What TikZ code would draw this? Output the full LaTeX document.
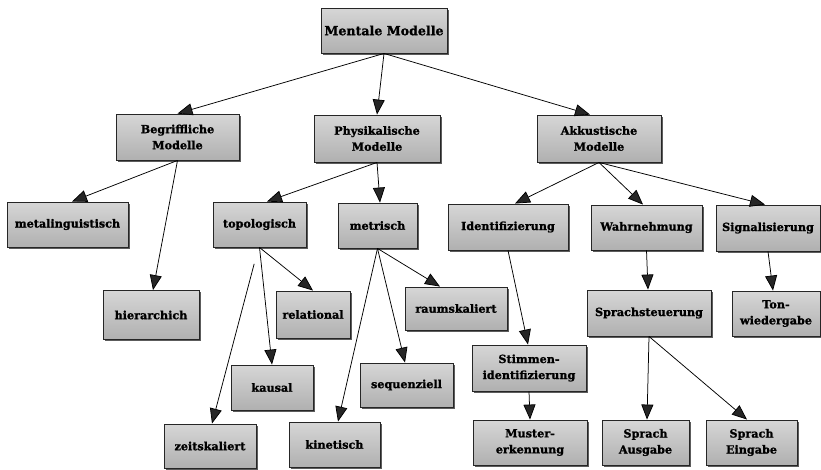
\documentclass[tikz,border=0pt]{standalone}
\usepackage{fontspec}
\setmainfont{DejaVu Serif}[BoldFeatures={FakeBold=1.3}]
\usetikzlibrary{arrows.meta,shadows}
\tikzset{
  box/.style={rectangle, draw=black!85, line width=0.9pt, top color=gray!32, bottom color=gray!62,
    drop shadow={shadow xshift=1.8pt, shadow yshift=-1.8pt, fill=black!75, opacity=0.85},
    font=\fontsize{11.2}{16}\selectfont\bfseries, align=center, inner sep=0pt},
  link/.style={line width=0.75pt, draw=black, -{Triangle[length=15pt,width=12pt,fill=black!85]}},
}
\begin{document}
\begin{tikzpicture}[x=1pt,y=-1pt]
\useasboundingbox[fill=white] (0,0) rectangle (821,469);
% level 0
\node[box, minimum width=126, minimum height=45, font=\fontsize{12.6}{16}\selectfont\bfseries] (mm) at (384,30.5) {Mentale Modelle};
% level 1
\node[box, minimum width=123, minimum height=46] (beg) at (177.5,137) {Begriffliche\\Modelle};
\node[box, minimum width=126, minimum height=47] (phy) at (377,138.5) {Physikalische\\Modelle};
\node[box, minimum width=124, minimum height=47] (akk) at (599,138.5) {Akkustische\\Modelle};
% level 2
\node[box, minimum width=121, minimum height=45] (meta) at (67.5,224.5) {metalinguistisch};
\node[box, minimum width=93, minimum height=45] (topo) at (259.5,224.5) {topologisch};
\node[box, minimum width=79, minimum height=45] (metr) at (377.5,225.5) {metrisch};
\node[box, minimum width=120, minimum height=46] (iden) at (508,227) {Identifizierung};
\node[box, minimum width=111, minimum height=45] (wahr) at (646.5,227.5) {Wahrnehmung};
\node[box, minimum width=104, minimum height=46] (sign) at (768,228) {Signalisierung};
% level 3
\node[box, minimum width=96, minimum height=49] (hier) at (151,315) {hierarchich};
\node[box, minimum width=74, minimum height=47] (rel) at (313,314.5) {relational};
\node[box, minimum width=102, minimum height=43] (raum) at (456,308.5) {raumskaliert};
\node[box, minimum width=124, minimum height=46] (spst) at (649,313) {Sprachsteuerung};
\node[box, minimum width=88, minimum height=45] (ton) at (776,313.5) {Ton-\\wiedergabe};
% level 4
\node[box, minimum width=114, minimum height=46] (stim) at (529,368) {Stimmen-\\identifizierung};
\node[box, minimum width=82, minimum height=45] (kaus) at (272,387.5) {kausal};
\node[box, minimum width=93, minimum height=44] (sequ) at (406.5,385) {sequenziell};
% level 5
\node[box, minimum width=92, minimum height=44] (zeit) at (210,446) {zeitskaliert};
\node[box, minimum width=91, minimum height=45] (kine) at (334.5,444.5) {kinetisch};
\node[box, minimum width=114, minimum height=45] (must) at (530,442.5) {Muster-\\erkennung};
\node[box, minimum width=87, minimum height=45] (ausg) at (645.5,442.5) {Sprach\\Ausgabe};
\node[box, minimum width=91, minimum height=45] (eing) at (751.5,442.5) {Sprach\\Eingabe};
% connectors
\draw[link] (mm.south) -- (beg.north);
\draw[link] (mm.south) -- (phy.north);
\draw[link] (mm.south) -- ([xshift=-9]akk.north);
\draw[link] (beg.south) -- ([xshift=4.5]meta.north);
\draw[link] (beg.south) -- ([xshift=2]hier.north);
\draw[link] (phy.south) -- ([xshift=7.5]topo.north);
\draw[link] (phy.south) -- ([xshift=2.5]metr.north);
\draw[link] (topo.south) -- (rel.north);
\draw[link] (topo.south) -- (kaus.north);
\draw[link, shorten <=17pt] ([xshift=-1]topo.south) -- ([xshift=2]zeit.north);
\draw[link] (metr.south) -- ([xshift=-16]raum.north);
\draw[link] (metr.south) -- ([xshift=-1.5]sequ.north);
\draw[link] (metr.south) -- ([xshift=3.5]kine.north);
\draw[link] (akk.south) -- ([xshift=7]iden.north);
\draw[link] (akk.south) -- ([xshift=-3.5]wahr.north);
\draw[link] (akk.south) -- ([xshift=-3]sign.north);
\draw[link] (iden.south) -- ([xshift=-1]stim.north);
\draw[link] (wahr.south) -- ([xshift=-1]spst.north);
\draw[link] (sign.south) -- ([xshift=-3]ton.north);
\draw[link] (stim.south) -- (must.north);
\draw[link] (spst.south) -- ([xshift=1.5]ausg.north);
\draw[link] (spst.south) -- ([xshift=-4.5]eing.north);
\end{tikzpicture}
\end{document}
